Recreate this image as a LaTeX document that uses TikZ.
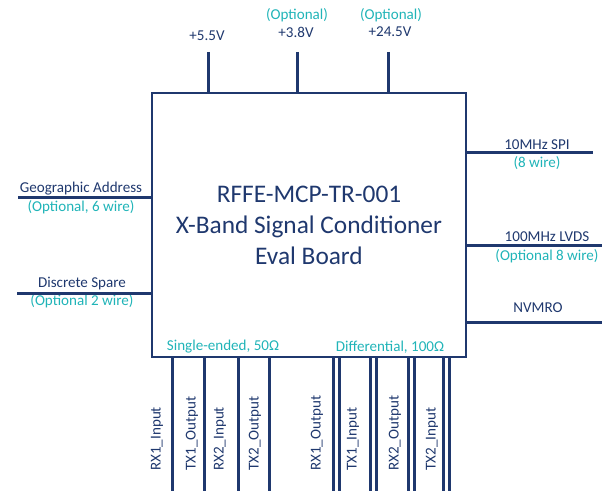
\documentclass[tikz,border=0pt]{standalone}
\usepackage{fontspec}
\setmainfont{Carlito}
\usepackage{tikz}

\definecolor{boardnavy}{RGB}{31,56,110}
\definecolor{optteal}{RGB}{32,180,184}

\begin{document}
\begin{tikzpicture}[x=0.75pt,y=0.75pt,yscale=-1,xscale=1,
    wire/.style={color=boardnavy,line width=2.25},
    lbl/.style={text=boardnavy,font=\fontsize{11.3}{13}\selectfont,inner sep=0},
    opt/.style={text=optteal,font=\fontsize{11.3}{13}\selectfont,inner sep=0},
    pinlbl/.style={lbl,rotate=90,anchor=west}]
    \useasboundingbox (0,0) rectangle (605,491);

    % board
    \node [draw=boardnavy,line width=1.5,minimum width=235.5pt,minimum height=198pt,inner sep=0,
           align=center,text=boardnavy,font=\fontsize{19}{23.25}\selectfont] (board) at (309,225)
          {RFFE-MCP-TR-001\\X-Band Signal Conditioner\\Eval Board};

    % supplies
    \node [lbl] (v55) at (207,36) {+5.5V};
    \node [lbl] (v38) at (296,32) {+3.8V};
    \node [opt] (v38opt) at (297,15) {(Optional)};
    \node [lbl] (v245) at (390,32) {+24.5V};
    \node [opt] (v245opt) at (391,15) {(Optional)};
    \coordinate (t55) at (208,52);
    \coordinate (t38) at (297,52);
    \coordinate (t245) at (388,52);
    \draw [wire] (t55) -- (t55 |- board.north);
    \draw [wire] (t38) -- (t38 |- board.north);
    \draw [wire] (t245) -- (t245 |- board.north);

    % left side
    \node [lbl] (geo) at (81,189) {Geographic Address};
    \node [opt] (geoopt) at (81,207) {(Optional, 6 wire)};
    \node [lbl] (disc) at (82,284) {Discrete Spare};
    \node [opt] (discopt) at (82,301) {(Optional 2 wire)};
    \coordinate (lgeo) at (18,198);
    \coordinate (ldisc) at (17,293);
    \draw [wire] (lgeo) -- (lgeo -| board.west);
    \draw [wire] (ldisc) -- (ldisc -| board.west);

    % right side
    \node [lbl] (spi) at (537,145) {10MHz SPI};
    \node [opt] (spiopt) at (537,163) {(8 wire)};
    \node [lbl] (lvds) at (547,237) {100MHz LVDS};
    \node [opt] (lvdsopt) at (547,256) {(Optional 8 wire)};
    \node [lbl] (nvm) at (538,308) {NVMRO};
    \coordinate (rspi) at (593,153);
    \coordinate (rlvds) at (602,245);
    \coordinate (rnvm) at (602,322);
    \draw [wire] (board.east |- rspi) -- (rspi);
    \draw [wire] (board.east |- rlvds) -- (rlvds);
    \draw [wire] (board.east |- rnvm) -- (rnvm);

    % RF ports
    \node [opt] (single) at (223,347) {Single-ended, 50Ω};
    \node [opt] (diff) at (390,347) {Differential, 100Ω};

    \coordinate (rx1in) at (172,491);
    \coordinate (tx1out) at (204,491);
    \coordinate (rx2in) at (238,491);
    \coordinate (tx2out) at (269,491);
    \draw [wire] (board.south -| rx1in) -- (rx1in);
    \draw [wire] (board.south -| tx1out) -- (tx1out);
    \draw [wire] (board.south -| rx2in) -- (rx2in);
    \draw [wire] (board.south -| tx2out) -- (tx2out);

    \coordinate (rx1outa) at (333,491);
    \coordinate (rx1outb) at (339,491);
    \coordinate (tx1ina) at (370,491);
    \coordinate (tx1inb) at (376,491);
    \coordinate (rx2outa) at (408,491);
    \coordinate (rx2outb) at (414,491);
    \coordinate (tx2ina) at (443,491);
    \coordinate (tx2inb) at (449,491);
    \draw [wire] (board.south -| rx1outa) -- (rx1outa);
    \draw [wire] (board.south -| rx1outb) -- (rx1outb);
    \draw [wire] (board.south -| tx1ina) -- (tx1ina);
    \draw [wire] (board.south -| tx1inb) -- (tx1inb);
    \draw [wire] (board.south -| rx2outa) -- (rx2outa);
    \draw [wire] (board.south -| rx2outb) -- (rx2outb);
    \draw [wire] (board.south -| tx2ina) -- (tx2ina);
    \draw [wire] (board.south -| tx2inb) -- (tx2inb);

    \node [pinlbl] (lrx1in) at (157,471) {RX1\_Input};
    \node [pinlbl] (ltx1out) at (192,471) {TX1\_Output};
    \node [pinlbl] (lrx2in) at (220,471) {RX2\_Input};
    \node [pinlbl] (ltx2out) at (255,471) {TX2\_Output};
    \node [pinlbl] (lrx1out) at (317,471) {RX1\_Output};
    \node [pinlbl] (ltx1in) at (353,471) {TX1\_Input};
    \node [pinlbl] (lrx2out) at (395,471) {RX2\_Output};
    \node [pinlbl] (ltx2in) at (432,471) {TX2\_Input};

\end{tikzpicture}
\end{document}
